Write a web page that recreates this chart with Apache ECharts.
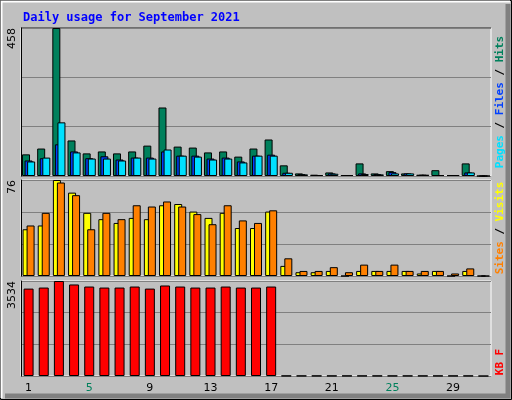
<!DOCTYPE html>
<html>
<head>
<meta charset="utf-8">
<script src="https://cdn.jsdelivr.net/npm/echarts@6/dist/echarts.min.js"></script>
<style>
html, body { margin: 0; padding: 0; background: #C0C0C0; }
#chart { width: 512px; height: 400px; }
</style>
</head>
<body>
<div id="chart"></div>
<script>
var days = ['1','2','3','4','5','6','7','8','9','10','11','12','13','14','15','16','17','18','19','20','21','22','23','24','25','26','27','28','29','30','31'];
var weekend = ['4','5','11','12','18','19','25','26'];
var hits   = [67,85,458,110,70,76,70,76,94,212,91,88,73,76,60,85,113,33,8,4,11,3,39,8,15,8,4,18,3,39,0];
var files  = [48,55,98,76,55,61,51,57,57,76,63,63,54,57,45,63,66,10,6,3,8,3,8,6,12,8,4,3,3,11,0];
var pages  = [45,57,166,73,54,54,48,57,54,82,63,60,51,54,42,63,63,10,5,3,7,3,6,5,8,8,4,3,3,11,0];
var visits = [37,40,76,66,50,45,42,46,45,56,57,51,46,50,38,38,51,8,3,3,4,0,4,4,4,4,2,4,0,4,0];
var sites  = [40,50,74,64,37,50,45,56,55,59,55,49,41,56,44,42,52,14,4,4,7,3,9,4,9,4,4,4,2,6,0];
var kbytes = [3251,3290,3534,3405,3328,3290,3290,3328,3251,3367,3328,3290,3290,3328,3290,3290,3328,8,8,8,8,8,8,8,8,8,8,8,8,8,0];
var maxHits = 458, maxVisits = 76, maxKB = 3534;

var chart = echarts.init(document.getElementById('chart'));
var mono = 'DejaVu Sans Mono';

function xAx(idx, labels) {
  return {
    type: 'category', gridIndex: idx, data: days,
    axisLine: { show: false }, axisTick: { show: false },
    axisLabel: labels ? {
      show: true, margin: 7, fontFamily: 'DejaVu Sans', fontSize: 11,
      formatter: function (v) { return weekend.indexOf(v) >= 0 ? '{w|' + v + '}' : '{n|' + v + '}'; },
      rich: { w: { color: '#00805C', fontSize: 11 }, n: { color: '#000', fontSize: 11 } }
    } : { show: false }
  };
}
function yAx(idx, max) {
  return {
    type: 'value', gridIndex: idx, min: 0, max: max, interval: max / 3,
    axisLine: { show: true, lineStyle: { color: '#000', width: 1 } },
    axisTick: { show: false },
    splitLine: { show: true, lineStyle: { color: '#808080', width: 1 } },
    axisLabel: {
      rotate: 90, align: 'right', verticalAlign: 'bottom', margin: 3,
      fontFamily: 'DejaVu Sans', fontSize: 11, color: '#000',
      formatter: function (v) { return v === max ? String(max) : ''; }
    }
  };
}
function bar(name, data, color, x, w, gap) {
  return {
    name: name, type: 'bar', data: data, xAxisIndex: x, yAxisIndex: x,
    barWidth: w, barGap: gap, silent: true,
    itemStyle: { color: color, borderColor: '#000', borderWidth: 1 }
  };
}

var option = {
  backgroundColor: '#C0C0C0',
  animation: false,
  title: {
    text: 'Daily usage for September 2021', left: 18, top: 7,
    textStyle: { fontFamily: mono, fontWeight: 'bold', fontSize: 12, color: '#0000FF' }
  },
  grid: [
    { left: 21, right: 21, top: 28, height: 148, show: true, backgroundColor: '#C0C0C0', borderColor: '#fff', borderWidth: 1 },
    { left: 21, right: 21, top: 180, height: 96, show: true, backgroundColor: '#C0C0C0', borderColor: '#fff', borderWidth: 1 },
    { left: 21, right: 21, top: 281, height: 95, show: true, backgroundColor: '#C0C0C0', borderColor: '#fff', borderWidth: 1 }
  ],
  xAxis: [xAx(0, false), xAx(1, false), xAx(2, true)],
  yAxis: [yAx(0, maxHits), yAx(1, maxVisits), yAx(2, maxKB)],
  series: [
    bar('Hits', hits, '#00805C', 0, 8, '-68%'),
    bar('Files', files, '#0040FF', 0, 8, '-68%'),
    bar('Pages', pages, '#00E0FF', 0, 8, '-68%'),
    bar('Visits', visits, '#FFFF00', 1, 8, '-50%'),
    bar('Sites', sites, '#FF8000', 1, 8, '-50%'),
    bar('KBytes', kbytes, '#FF0000', 2, 10, '0%')
  ],
  graphic: [
    { type: 'rect', shape: { x: 0.5, y: 0.5, width: 511, height: 399 }, style: { fill: 'none', stroke: '#000', lineWidth: 1 }, silent: true },
    { type: 'polyline', shape: { points: [[1.5, 398], [1.5, 1.5], [510, 1.5]] }, style: { stroke: '#fff', lineWidth: 2, fill: 'none' }, silent: true },
    { type: 'polyline', shape: { points: [[5, 396], [508, 396], [508, 4]] }, style: { stroke: '#808080', lineWidth: 5, fill: 'none' }, silent: true },
    { type: 'polyline', shape: { points: [[21, 28], [491, 28]] }, style: { stroke: '#000', lineWidth: 1 }, silent: true },
    {
      type: 'text', x: 495, y: 102, rotation: Math.PI / 2, silent: true,
      style: {
        text: '{p|Pages} {s|/} {f|Files} {s|/} {h|Hits}', align: 'center', verticalAlign: 'top',
        font: 'bold 11px ' + mono,
        rich: { p: { fill: '#00E0FF' }, f: { fill: '#0040FF' }, h: { fill: '#00805C' }, s: { fill: '#000' } }
      }
    },
    {
      type: 'text', x: 495, y: 228, rotation: Math.PI / 2, silent: true,
      style: {
        text: '{a|Sites} {s|/} {b|Visits}', align: 'center', verticalAlign: 'top',
        font: 'bold 11px ' + mono,
        rich: { a: { fill: '#FF8000' }, b: { fill: '#FFFF00' }, s: { fill: '#000' } }
      }
    },
    {
      type: 'text', x: 495, y: 362, rotation: Math.PI / 2, silent: true,
      style: { text: 'KB F', align: 'center', verticalAlign: 'top', font: 'bold 11px ' + mono, fill: '#FF0000' }
    }
  ]
};
chart.setOption(option);
</script>
</body>
</html>
